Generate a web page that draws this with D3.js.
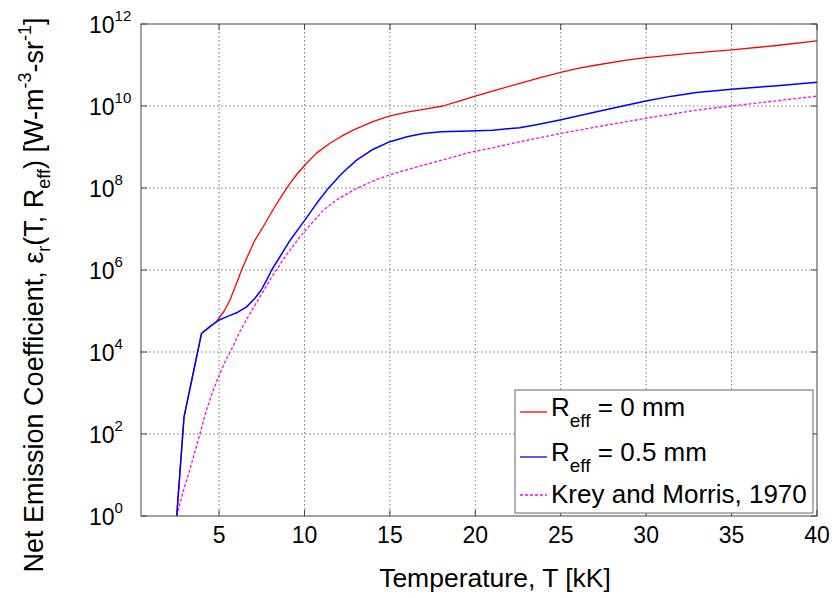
<!DOCTYPE html>
<html><head><meta charset="utf-8">
<script src="https://cdn.jsdelivr.net/npm/d3@7"></script>
<style>body{margin:0;background:#fff}svg{display:block;font-family:"Liberation Sans",Arial,sans-serif}</style>
</head><body><svg id="c" width="834" height="598"></svg>
<script>
const xTicks = [5,10,15,20,25,30,35,40];
const yTickExps = [0,2,4,6,8,10,12];

const redT = [2.52,2.95,3.97,4.5,4.86,5.05,5.3,5.64,6.0,6.32,6.62,7.1,7.59,8.2,8.76,9.15,9.6,10.03,10.7,11.49,12.2,12.85,14.0,15.0,16.0,17.3,18.1,19.0,19.9,21.2,22.6,23.8,25.0,26.0,27.1,28.85,30.0,32.5,35.0,37.5,40];
const redV = [1,2.63e2,2.82e4,4.27e4,5.6e4,7.24e4,1.0e5,1.86e5,4.47e5,1.0e6,1.95e6,5.37e6,1.15e7,3.16e7,7.41e7,1.29e8,2.29e8,3.63e8,7.08e8,1.23e9,1.86e9,2.57e9,4.17e9,5.75e9,7.08e9,8.71e9,1.0e10,1.29e10,1.70e10,2.45e10,3.55e10,4.90e10,6.61e10,8.32e10,1.0e11,1.32e11,1.51e11,1.91e11,2.34e11,2.95e11,3.89e11];

const blueT = [2.52,2.95,3.97,4.5,5.01,5.5,6.1,6.61,7.1,7.45,7.79,8.08,9.15,9.99,10.7,11.39,12.2,13.05,14.0,15.0,16.0,16.95,18.0,19.68,21.0,22.6,23.8,24.95,27.1,28.5,29.98,31.5,32.95,34.99,37.5,40];
const blueV = [1,2.63e2,2.82e4,4.27e4,6.03e4,7.41e4,9.33e4,1.26e5,2.04e5,3.16e5,5.75e5,1.0e6,5.25e6,1.58e7,4.17e7,9.77e7,2.29e8,4.79e8,8.71e8,1.35e9,1.78e9,2.14e9,2.34e9,2.45e9,2.57e9,2.95e9,3.63e9,4.57e9,7.24e9,9.77e9,1.32e10,1.74e10,2.14e10,2.57e10,3.09e10,3.80e10];

const kreyT = [2.52,2.9,3.3,3.88,4.2,4.57,4.95,5.4,5.83,6.22,6.81,7.4,7.98,8.76,9.73,10.4,11.1,12.0,13.05,14.0,15.0,16.2,17.34,18.5,19.68,21.0,22.5,24.99,27.5,29.98,32.95,34.99,37.5,40];
const kreyV = [1,3.98,14.1,100,316,933,2.40e3,6.31e3,1.41e4,3.16e4,8.71e4,2.24e5,5.75e5,1.82e6,6.46e6,1.35e7,2.88e7,5.50e7,9.77e7,1.48e8,2.09e8,2.95e8,3.98e8,5.37e8,7.41e8,9.55e8,1.32e9,2.14e9,3.31e9,5.01e9,7.94e9,1.0e10,1.32e10,1.74e10];

const legendLabels = [["R","eff"," = 0 mm"],["R","eff"," = 0.5 mm"],["Krey and Morris, 1970",null,null]];
const legendColors = ["#ff0000","#0000ff","#ff00ff"];

const svg = d3.select("#c");
const L=141, R=817, T=24, B=516;
const x = d3.scaleLinear().domain([0.43,40]).range([L,R]);
const y = d3.scaleLog().domain([1,1e12]).range([B,T]);

svg.append("defs").append("clipPath").attr("id","clip").append("rect")
  .attr("x",L).attr("y",T).attr("width",R-L).attr("height",B-T);

// grid
const g = svg.append("g");
xTicks.filter(t=>t<40).forEach(t=>{
  g.append("line").attr("x1",x(t)).attr("x2",x(t)).attr("y1",T).attr("y2",B)
   .attr("stroke","#777").attr("stroke-width",1).attr("stroke-dasharray","1.5,2.5");
});
yTickExps.filter(e=>e>0&&e<12).forEach(e=>{
  g.append("line").attr("x1",L).attr("x2",R).attr("y1",y(Math.pow(10,e))).attr("y2",y(Math.pow(10,e)))
   .attr("stroke","#777").attr("stroke-width",1).attr("stroke-dasharray","1.5,2.5");
});

// lines
const line = d3.line().x(d=>x(d[0])).y(d=>y(d[1])).curve(d3.curveLinear);
const lg = svg.append("g").attr("clip-path","url(#clip)");
lg.append("path").datum(d3.zip(redT,redV)).attr("d",line).attr("fill","none").attr("stroke","#ff0000").attr("stroke-width",1.3).attr("stroke-linejoin","round");
lg.append("path").datum(d3.zip(kreyT,kreyV)).attr("d",line).attr("fill","none").attr("stroke","#ff00ff").attr("stroke-width",1.3).attr("stroke-dasharray","3,2");
lg.append("path").datum(d3.zip(blueT,blueV)).attr("d",line).attr("fill","none").attr("stroke","#0000ff").attr("stroke-width",1.5).attr("stroke-linejoin","round");

// frame
svg.append("rect").attr("x",L).attr("y",T).attr("width",R-L).attr("height",B-T)
  .attr("fill","none").attr("stroke","#444").attr("stroke-width",1);
xTicks.forEach(t=>{
  svg.append("line").attr("x1",x(t)).attr("x2",x(t)).attr("y1",B).attr("y2",B-6).attr("stroke","#444");
  svg.append("line").attr("x1",x(t)).attr("x2",x(t)).attr("y1",T).attr("y2",T+6).attr("stroke","#444");
});
yTickExps.forEach(e=>{
  const yy=y(Math.pow(10,e));
  svg.append("line").attr("x1",L).attr("x2",L+6).attr("y1",yy).attr("y2",yy).attr("stroke","#444");
  svg.append("line").attr("x1",R).attr("x2",R-6).attr("y1",yy).attr("y2",yy).attr("stroke","#444");
});

// x tick labels
xTicks.forEach(t=>{
  svg.append("text").attr("x",x(t)).attr("y",543).attr("text-anchor","middle")
   .attr("font-size",23).attr("fill","#000").text(t);
});
// y tick labels
yTickExps.forEach(e=>{
  const yy=y(Math.pow(10,e));
  const tx=svg.append("text").attr("x",89).attr("y",yy+9).attr("font-size",23).attr("fill","#000");
  tx.append("tspan").text("10");
  tx.append("tspan").attr("font-size",15).attr("dy",-12).text(e);
});

// x label
svg.append("text").attr("x",495).attr("y",587).attr("text-anchor","middle")
  .attr("font-size",26.5).attr("fill","#000").text("Temperature, T [kK]");

// y label
const yl = svg.append("text").attr("transform","translate(43,295) rotate(-90)")
  .attr("text-anchor","middle").attr("font-size",27).attr("fill","#000");
yl.append("tspan").text("Net Emission Coefficient, \u03B5");
yl.append("tspan").attr("font-size",18).attr("dy",7).text("r");
yl.append("tspan").attr("dy",-7).text("(T, R");
yl.append("tspan").attr("font-size",18).attr("dy",7).text("eff");
yl.append("tspan").attr("dy",-7).text(") [W-m");
yl.append("tspan").attr("font-size",18).attr("dy",-12).text("-3");
yl.append("tspan").attr("dy",12).text("-sr");
yl.append("tspan").attr("font-size",18).attr("dy",-12).text("-1");
yl.append("tspan").attr("dy",12).text("]");

// legend
svg.append("rect").attr("x",515).attr("y",390).attr("width",298).attr("height",123)
  .attr("fill","#fff").attr("stroke","#666").attr("stroke-width",1);
const rowsLine=[412,457,495], rowsText=[416,461,503];
legendLabels.forEach((lab,i)=>{
  svg.append("line").attr("x1",520).attr("x2",547).attr("y1",rowsLine[i]).attr("y2",rowsLine[i])
    .attr("stroke",legendColors[i]).attr("stroke-width",1.3).attr("stroke-dasharray",i===2?"3,2":null);
  const t=svg.append("text").attr("x",551).attr("y",rowsText[i]).attr("font-size",26).attr("fill","#000");
  t.append("tspan").text(lab[0]);
  if(lab[1]){
    t.append("tspan").attr("font-size",19).attr("dy",11).text(lab[1]);
    t.append("tspan").attr("dy",-11).text(lab[2]);
  }
});
</script></body></html>
